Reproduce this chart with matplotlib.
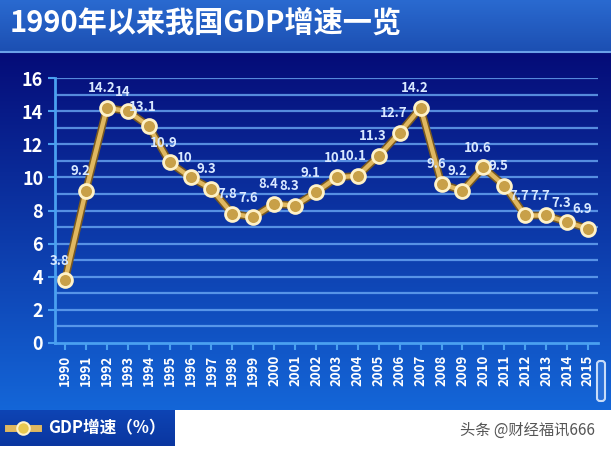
import matplotlib
matplotlib.use("Agg")
import matplotlib.pyplot as plt
import numpy as np
from matplotlib.colors import LinearSegmentedColormap
from matplotlib.patches import FancyBboxPatch

plt.rcParams['font.family'] = ['Noto Sans CJK SC', 'DejaVu Sans']

# data
years = list(range(1990, 2016))
gdp = [3.8, 9.2, 14.2, 14, 13.1, 10.9, 10, 9.3, 7.8, 7.6, 8.4, 8.3, 9.1,
       10, 10.1, 11.3, 12.7, 14.2, 9.6, 9.2, 10.6, 9.5, 7.7, 7.7, 7.3, 6.9]
labels = ["3.8", "9.2", "14.2", "14", "13.1", "10.9", "10", "9.3", "7.8", "7.6",
          "8.4", "8.3", "9.1", "10", "10.1", "11.3", "12.7", "14.2", "9.6", "9.2",
          "10.6", "9.5", "7.7", "7.7", "7.3", "6.9"]
title = "1990年以来我国GDP增速一览"
legend_label = "GDP增速（%）"

W, H = 611, 451
fig = plt.figure(figsize=(W / 100, H / 100), dpi=100)
fig.patch.set_facecolor("white")

# background panels in pixel coordinates
bg = fig.add_axes([0, 0, 1, 1], zorder=-1)
bg.axis("off")

def vgrad(ax, x0, x1, y0, y1, c_top, c_bot):
    cm = LinearSegmentedColormap.from_list("g", [c_top, c_bot])
    g = np.linspace(0, 1, 256).reshape(-1, 1)
    ax.imshow(g, cmap=cm, extent=(x0, x1, y1, y0), aspect="auto", zorder=0)

vgrad(bg, 0, W, 0, 52, "#2a6ad0", "#1c4fb2")
bg.axhline(52, color="#6aa0e8", lw=1.5, zorder=1)
vgrad(bg, 0, W, 53, 410, "#050c78", "#1466d8")
vgrad(bg, 0, 175, 410, 446, "#0e44b4", "#0a36a0")
bg.add_patch(FancyBboxPatch((598, 362), 6, 38, boxstyle="round,pad=1,rounding_size=3",
                            fc="#2a70d8", ec="#c8dcf8", lw=1.5, zorder=2))
bg.set_xlim(0, W)
bg.set_ylim(H, 0)

fig.text(10 / W, 1 - 23 / H, title, color="white", fontsize=21, fontweight="bold",
         va="center", ha="left")

# main chart
ax = fig.add_axes([55 / W, 1 - 343 / H, (598 - 55) / W, (343 - 78) / H])
ax.patch.set_alpha(0)
ax.set_xlim(1989.52, 2015.48)
ax.set_ylim(0, 16)

for v in range(1, 17):
    ax.axhline(v, color="#6aa8f4", lw=1.6, alpha=0.8, zorder=1)

ax.plot(years, gdp, color="#7a5a20", lw=5.5, zorder=2, solid_capstyle="round")
ax.plot(years, gdp, color="#e0b860", lw=3.2, zorder=3, marker="o", markersize=10,
        markerfacecolor="#c8a048", markeredgecolor="#fff2c8", markeredgewidth=2)

for x, y, t in zip(years, gdp, labels):
    ax.annotate(t, (x, y), xytext=(-4, 9), textcoords="offset points",
                ha="center", va="bottom", color="#d8e8ff", fontsize=9.5,
                fontweight="bold", zorder=4)

for s in ["top", "right"]:
    ax.spines[s].set_visible(False)
ax.spines["left"].set_color("#4aa0f0")
ax.spines["bottom"].set_color("#4aa0f0")
ax.spines["left"].set_linewidth(2)
ax.spines["bottom"].set_linewidth(2)

ax.set_yticks(range(0, 17, 2))
ax.set_yticklabels([str(v) for v in range(0, 17, 2)], fontsize=13, fontweight="bold")
ax.set_xticks(years)
ax.set_xticklabels([str(y) for y in years], rotation=90, fontsize=9.5,
                   fontweight="bold")
ax.tick_params(axis="both", colors="#4aa0f0", length=5, width=1.5)
for lab in ax.get_xticklabels() + ax.get_yticklabels():
    lab.set_color("white")

# legend
bg.plot([8, 38], [428, 428], color="#e0b860", lw=5, zorder=3)
bg.plot([23], [428], "o", markersize=9, markerfacecolor="#e8c850",
        markeredgecolor="#fff2c8", markeredgewidth=1.5, zorder=4)
bg.text(48, 428, legend_label, color="white", fontsize=12, fontweight="bold",
        va="center", ha="left", zorder=4)

# watermark
bg.text(595, 430, "头条 @财经福讯666", color="#555555", fontsize=11,
        va="center", ha="right", zorder=4)

fig.savefig("out.png", dpi=100)
